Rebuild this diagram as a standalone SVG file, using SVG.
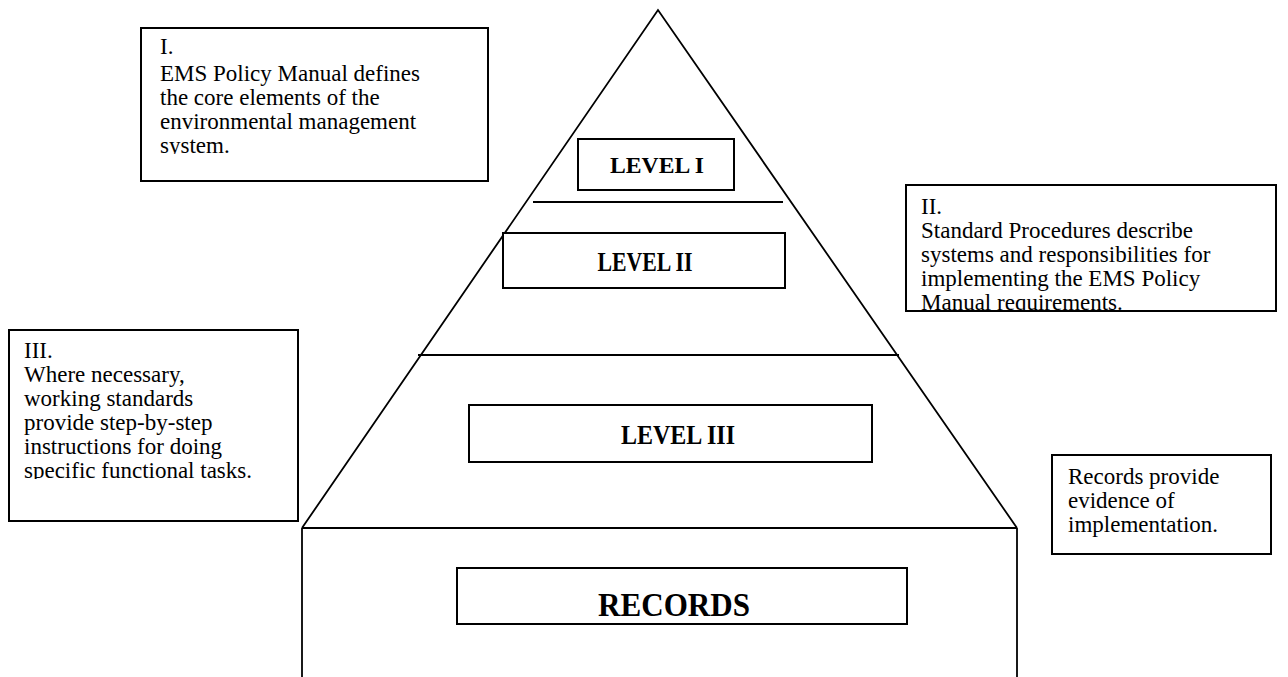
<svg xmlns="http://www.w3.org/2000/svg" width="1288" height="677" viewBox="0 0 1288 677">
<style>
.box{fill:#fff;stroke:#000;stroke-width:2}
.ln{stroke:#000;stroke-width:1.8;fill:none}
.t{font-family:"Liberation Serif","Times New Roman",serif;font-size:23px;fill:#000}
.b{font-family:"Liberation Serif","Times New Roman",serif;font-weight:bold;fill:#000;text-anchor:middle}
</style>
<defs>
<clipPath id="c1"><rect x="141" y="28" width="347" height="126"/></clipPath>
<clipPath id="c2"><rect x="906" y="185" width="370" height="126"/></clipPath>
<clipPath id="c3"><rect x="9" y="330" width="289" height="149"/></clipPath>
</defs>
<rect width="1288" height="677" fill="#fff"/>
<g id="pyramid">
<polyline class="ln" points="302,528 658,10 1017,528"/>
<line class="ln" x1="302" y1="528" x2="1017" y2="528"/>
<line class="ln" x1="302" y1="528" x2="302" y2="677"/>
<line class="ln" x1="1017" y1="528" x2="1017" y2="677"/>
<line class="ln" x1="533" y1="202" x2="783" y2="202"/>
<line class="ln" x1="418" y1="355" x2="899" y2="355"/>
</g>
<g id="level1">
<rect class="box" x="578" y="139" width="156" height="51"/>
<text class="b" x="657" y="173" font-size="24" textLength="94" lengthAdjust="spacingAndGlyphs">LEVEL I</text>
</g>
<g id="level2">
<rect class="box" x="503" y="233" width="282" height="55"/>
<text class="b" x="645" y="271" font-size="27" textLength="95" lengthAdjust="spacingAndGlyphs">LEVEL II</text>
</g>
<g id="level3">
<rect class="box" x="469" y="405" width="403" height="57"/>
<text class="b" x="678" y="444" font-size="27" textLength="114" lengthAdjust="spacingAndGlyphs">LEVEL III</text>
</g>
<g id="records">
<rect class="box" x="457" y="568" width="450" height="56"/>
<text class="b" x="674" y="616" font-size="34" textLength="152" lengthAdjust="spacingAndGlyphs">RECORDS</text>
</g>
<g id="note1">
<rect class="box" x="141" y="28" width="347" height="153"/>
<text class="t" clip-path="url(#c1)"><tspan x="160" y="54">I.</tspan><tspan x="160" y="81">EMS Policy Manual defines</tspan><tspan x="160" y="105">the core elements of the</tspan><tspan x="160" y="129">environmental management</tspan><tspan x="160" y="153">system.</tspan></text>
</g>
<g id="note2">
<rect class="box" x="906" y="185" width="370" height="126"/>
<text class="t" clip-path="url(#c2)"><tspan x="921" y="214">II.</tspan><tspan x="921" y="238">Standard Procedures describe</tspan><tspan x="921" y="262">systems and responsibilities for</tspan><tspan x="921" y="286">implementing the EMS Policy</tspan><tspan x="921" y="310">Manual requirements.</tspan></text>
</g>
<g id="note3">
<rect class="box" x="9" y="330" width="289" height="191"/>
<text class="t" clip-path="url(#c3)"><tspan x="24" y="358">III.</tspan><tspan x="24" y="382">Where necessary,</tspan><tspan x="24" y="406">working standards</tspan><tspan x="24" y="430">provide step-by-step</tspan><tspan x="24" y="454">instructions for doing</tspan><tspan x="24" y="478">specific functional tasks.</tspan></text>
</g>
<g id="note4">
<rect class="box" x="1052" y="455" width="219" height="99"/>
<text class="t"><tspan x="1068" y="484">Records provide</tspan><tspan x="1068" y="508">evidence of</tspan><tspan x="1068" y="532">implementation.</tspan></text>
</g>
</svg>
